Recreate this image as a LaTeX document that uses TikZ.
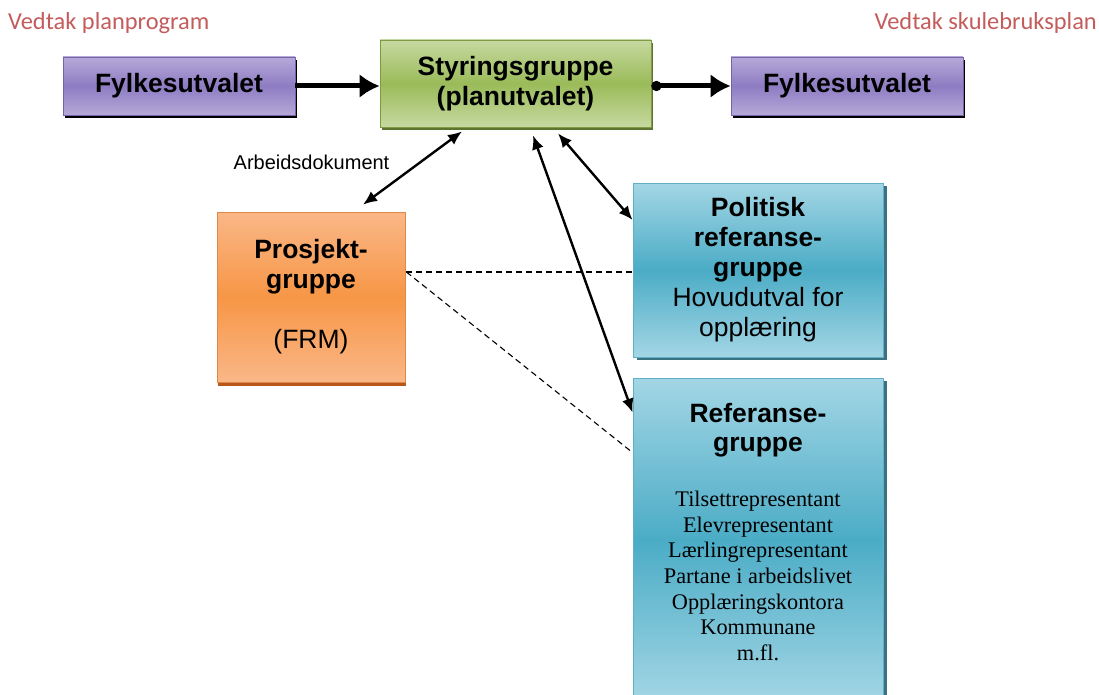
\documentclass[tikz,border=0pt]{standalone}
\usepackage{fontspec}
\setmainfont{Liberation Serif}
\newfontfamily\arialf{Liberation Sans}
\newfontfamily\calibrif{Carlito}
\usetikzlibrary{arrows.meta,shadows,calc}
\definecolor{purpM}{HTML}{8E7CC3}
\definecolor{purpL}{HTML}{B6A9D8}
\definecolor{purpD}{HTML}{7662A6}
\definecolor{greenM}{HTML}{9BBB59}
\definecolor{greenL}{HTML}{C6D9A0}
\definecolor{greenD}{HTML}{7E9A44}
\definecolor{greenS}{HTML}{5E7530}
\definecolor{orM}{HTML}{F79646}
\definecolor{orL}{HTML}{FAB787}
\definecolor{orD}{HTML}{E0874A}
\definecolor{orS}{HTML}{B9561A}
\definecolor{blM}{HTML}{4BACC6}
\definecolor{blL}{HTML}{A3D6E5}
\definecolor{blD}{HTML}{5FAFC6}
\definecolor{blS}{HTML}{3A7283}
\definecolor{vedtak}{HTML}{C45C5C}
\begin{document}
\begin{tikzpicture}[x=1pt,y=-1pt,
  box/.style={inner sep=0pt, align=center, font=\arialf\fontsize{26.5}{30}\selectfont},
  fylke/.style={box, draw=purpD, line width=0.8pt, minimum width=232pt, minimum height=58pt,
    top color=purpL, bottom color=purpL, middle color=purpM,
    drop shadow={shadow xshift=1.5pt, shadow yshift=-3.5pt, fill=black, opacity=1}},
  styr/.style={box, draw=greenD, line width=0.8pt, minimum width=271pt, minimum height=87pt,
    top color=greenL, bottom color=greenL, middle color=greenM,
    drop shadow={shadow xshift=2pt, shadow yshift=-3pt, fill=greenS, opacity=1}},
  prosj/.style={box, draw=orD, line width=0.8pt, minimum width=188pt, minimum height=170pt,
    top color=orL, bottom color=orL, middle color=orM,
    drop shadow={shadow xshift=1pt, shadow yshift=-4pt, fill=orS, opacity=1}},
  blue/.style={box, draw=blD, line width=0.8pt, minimum width=250pt,
    top color=blL, bottom color=blL, middle color=blM,
    drop shadow={shadow xshift=3.5pt, shadow yshift=-3pt, fill=blS, opacity=1}},
  bigarrow/.style={line width=5pt, -{Latex[length=20pt,width=24pt]}},
  dbl/.style={line width=2.4pt, {Latex[length=14pt,width=12pt]}-{Latex[length=14pt,width=12pt]}},
  dsh/.style={line width=1.1pt, dash pattern=on 6pt off 4pt},
]
\useasboundingbox (0,0) rectangle (1099,695);
\fill[white] (0,0) rectangle (1099,695);

% titles
\node[anchor=base west, inner sep=0, text=vedtak, font=\calibrif\fontsize{24.4}{28}\selectfont] (v1) at (8,29.5) {Vedtak planprogram};
\node[anchor=base east, inner sep=0, text=vedtak, font=\calibrif\fontsize{24.4}{28}\selectfont] (v2) at (1097,29.5) {Vedtak skulebruksplan};

% boxes
\node[fylke] (f1) at (179,86) {\textbf{Fylkesutvalet}};
\node[styr] (st) at (515.5,83.5) {\textbf{Styringsgruppe}\\\textbf{(planutvalet)}};
\node[fylke] (f2) at (847,86) {\textbf{Fylkesutvalet}};
\node[prosj] (pg) at (311,297) {\textbf{Prosjekt-}\\\textbf{gruppe}\\[30pt](FRM)};
\node[blue, minimum height=174pt, font=\arialf\fontsize{26.5}{30}\selectfont] (pr) at (758,270)
  {\textbf{Politisk}\\\textbf{referanse-}\\\textbf{gruppe}\\Hovudutval for\\opplæring};
\node[blue, minimum height=324pt] (rb) at (758,540) {};
\node[anchor=north, inner sep=0, align=center, font=\arialf\bfseries\fontsize{26.5}{29}\selectfont] (rt) at (758,403) {Referanse-\\gruppe};
\node[anchor=north, inner sep=0, align=center, font=\fontsize{22.3}{25.6}\selectfont] (rl) at (758,491)
  {Tilsettrepresentant\\Elevrepresentant\\Lærlingrepresentant\\Partane i arbeidslivet\\Opplæringskontora\\Kommunane\\m.fl.};

\node[inner sep=0, font=\arialf\fontsize{20}{22}\selectfont] (ad) at (311.5,162) {Arbeidsdokument};

% connectors
\draw[bigarrow] (f1.east) -- (f1.east -| st.west);
\draw[line width=5pt, {Circle[length=10pt]}-{Latex[length=20pt,width=24pt]}] (f2.west -| st.east) -- (f2.west);

\coordinate (a1) at ([xshift=-53.5pt, yshift=-4pt]st.south);
\coordinate (a1b) at ([xshift=52pt, yshift=7pt]pg.north);
\draw[dbl] (a1) -- (a1b);
\coordinate (a2) at ([xshift=42.5pt, yshift=-6pt]st.south);
\coordinate (a2b) at ([yshift=50pt]pr.west);
\draw[dbl] (a2) -- (a2b);
\coordinate (a3) at ([xshift=17.5pt, yshift=-8pt]st.south);
\coordinate (a3b) at ([yshift=-35pt]rb.north west);
\draw[dbl] (a3) -- (a3b);

\coordinate (d0) at ([xshift=1pt, yshift=25pt]pg.east);
\draw[dsh] (d0) -- (d0 -| pr.west);
\coordinate (d2) at ([yshift=-75pt]rb.north west);
\draw[dsh] (d0) -- (d2);
\end{tikzpicture}
\end{document}
